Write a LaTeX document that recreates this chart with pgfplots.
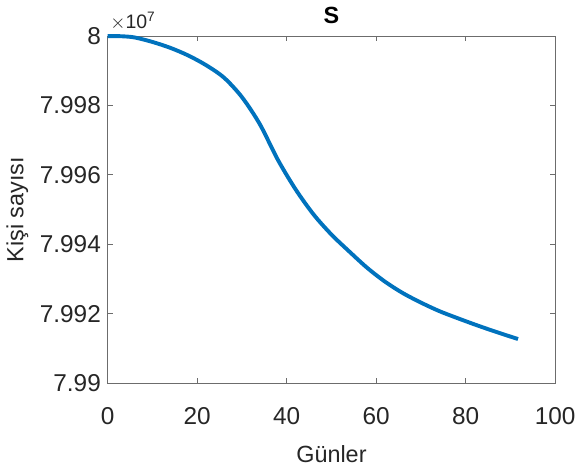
\documentclass[border=0pt]{standalone}
\usepackage{pgfplots}
\pgfplotsset{compat=1.18}
\usepackage{fontspec}
\setmainfont{Liberation Sans}
\definecolor{mblue}{RGB}{0,114,189}
\definecolor{tgray}{RGB}{38,38,38}
\begin{document}
\begin{tikzpicture}
\begin{axis}[
  name=ax,
  scale only axis,
  width=229.5pt, height=178pt,
  xmin=0, xmax=100, ymin=7.99, ymax=8,
  xtick={0,20,40,60,80,100},
  ytick={7.99,7.992,7.994,7.996,7.998,8},
  yticklabels={7.99,7.992,7.994,7.996,7.998,8},
  /pgf/number format/assume math mode=true,
  scaled y ticks=false,
  tick align=inside,
  major tick length=2.5pt,
  axis line style={draw=gray!85!black, line width=0.4pt},
  every tick/.style={gray!85!black, line width=0.4pt},
  tick label style={font=\fontsize{12.5}{14}\selectfont, text=tgray},
  xticklabel style={yshift=-9pt},
  label style={font=\fontsize{12}{14}\selectfont, text=tgray},
  xlabel={Günler},
  ylabel={Kişi sayısı},
  title={\textbf{S}},
  title style={font=\fontsize{12}{14}\selectfont, yshift=-3pt},
  xlabel style={yshift=-4pt},
  ylabel style={yshift=-1pt},
  clip=false,
]
\addplot[mblue, line width=2pt, smooth] coordinates {
(0,8.00000) (3,7.999995) (6,7.99996) (10,7.99983) (14,7.99966) (18,7.99944)
(22,7.99916) (26,7.99880) (30,7.99824) (34,7.99746) (38,7.99644) (42,7.99558)
(46,7.99486) (50,7.99428) (54,7.99379) (58,7.99332) (62,7.99292) (66,7.99259)
(70,7.99232) (74,7.99208) (78,7.99188) (82,7.99169) (86,7.99151) (90,7.99134)
(91.7,7.99127)
};
\node[anchor=south west, inner sep=0pt, text=tgray, font=\fontsize{10}{12}\selectfont] at (rel axis cs:0.005,1.015) {$\times$10\textsuperscript{7}};
\end{axis}
\path[use as bounding box] ([xshift=-52pt,yshift=-36.5pt]ax.south west) rectangle ([xshift=9.5pt,yshift=18.5pt]ax.north east);
\end{tikzpicture}
\end{document}
